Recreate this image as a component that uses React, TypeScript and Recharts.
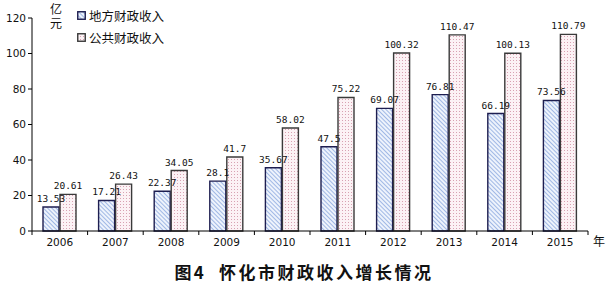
import React from "react";
import { BarChart, Bar, XAxis, YAxis, LabelList } from "recharts";

const years = ["2006", "2007", "2008", "2009", "2010", "2011", "2012", "2013", "2014", "2015"];
const localRevenue = [13.53, 17.21, 22.37, 28.1, 35.67, 47.5, 69.07, 76.81, 66.19, 73.56];
const publicRevenue = [20.61, 26.43, 34.05, 41.7, 58.02, 75.22, 100.32, 110.47, 100.13, 110.79];
const yTicks = [0, 20, 40, 60, 80, 100, 120];
const seriesNames = ["地方财政收入", "公共财政收入"];
const unitChars = ["亿", "元"];
const title = "图4  怀化市财政收入增长情况";

const data = years.map((y, i) => ({ year: y, local: localRevenue[i], pub: publicRevenue[i] }));

const CHART_W = 608;
const MARGIN = { top: 18, right: 20, bottom: 33, left: 0 };
const Y_W = 32;
const BAND = (CHART_W - MARGIN.left - MARGIN.right - Y_W) / years.length;

const labelStyle = { fontFamily: "'DejaVu Sans Mono', monospace", fontSize: 9.5, fill: "#111" };

function Patterns() {
  return (
    <svg width={0} height={0} style={{ position: "absolute" }}>
      <defs>
        <pattern id="hatch" width="3" height="3" patternUnits="userSpaceOnUse" patternTransform="rotate(-45)">
          <rect width="3" height="3" fill="#eef3fc" />
          <line x1="0" y1="0" x2="0" y2="3" stroke="#86a4de" strokeWidth="1.5" />
        </pattern>
        <pattern id="dots" width="3" height="3" patternUnits="userSpaceOnUse">
          <rect width="3" height="3" fill="#fcf2f5" />
          <rect x="0" y="0" width="1" height="1" fill="#d8a2b2" />
        </pattern>
      </defs>
    </svg>
  );
}

function XTick(props: any) {
  const { x, y, payload, index } = props;
  const axisY = y - 6;
  return (
    <g>
      <line x1={x + BAND / 2} y1={axisY} x2={x + BAND / 2} y2={axisY + 4} stroke="#000" />
      {index === 0 && <line x1={x - BAND / 2} y1={axisY} x2={x - BAND / 2} y2={axisY + 4} stroke="#000" />}
      <text x={x} y={y} dy={9} textAnchor="middle" fontFamily="'DejaVu Sans', sans-serif" fontSize={10.5} fill="#111">
        {payload.value}
      </text>
    </g>
  );
}

export default function App() {
  return (
    <div style={{ position: "absolute", left: 0, top: 0, width: 608, height: 288, background: "#fff" }}>
      <Patterns />
      <BarChart width={CHART_W} height={288} data={data} margin={MARGIN} barGap={1} barSize={16}>
        <XAxis
          dataKey="year"
          height={24}
          tickLine={false}
          tickSize={6}
          tickMargin={0}
          axisLine={{ stroke: "#000", strokeWidth: 1 }}
          tick={<XTick />}
          interval={0}
        />
        <YAxis
          domain={[0, 120]}
          ticks={yTicks}
          interval={0}
          width={Y_W}
          axisLine={{ stroke: "#000", strokeWidth: 1 }}
          tickLine={{ stroke: "#000" }}
          tickSize={4}
          tick={{ fontFamily: "'DejaVu Sans', sans-serif", fontSize: 10.5, fill: "#111" }}
        />
        <Bar dataKey="local" fill="url(#hatch)" stroke="#1e1e50" strokeWidth={1.4} isAnimationActive={false}>
          <LabelList dataKey="local" position="top" offset={5} style={labelStyle} />
        </Bar>
        <Bar dataKey="pub" fill="url(#dots)" stroke="#3a3a3a" strokeWidth={1.4} isAnimationActive={false}>
          <LabelList dataKey="pub" position="top" offset={5} style={labelStyle} />
        </Bar>
      </BarChart>

      {unitChars.map((ch, i) => (
        <div key={ch} style={{ position: "absolute", left: 50, top: 2 + i * 14, height: 13, fontFamily: "'Noto Sans CJK SC', sans-serif", fontSize: 12, lineHeight: "13px", color: "#111" }}>
          {ch}
        </div>
      ))}

      {seriesNames.map((name, i) => (
        <div key={name} style={{ position: "absolute", left: 77, top: 6 + i * 22, display: "flex", alignItems: "center", fontFamily: "'Noto Sans CJK SC', sans-serif", fontSize: 12.5, color: "#111", whiteSpace: "nowrap" }}>
          <svg width={9} height={9} style={{ marginRight: 3 }}>
            <rect x={0.75} y={0.75} width={7.5} height={7.5} fill={i === 0 ? "url(#hatch)" : "url(#dots)"} stroke={i === 0 ? "#1e1e50" : "#3a3a3a"} strokeWidth={1.4} />
          </svg>
          {name}
        </div>
      ))}

      <div style={{ position: "absolute", left: 593, top: 232, fontFamily: "'Noto Sans CJK SC', sans-serif", fontSize: 12, color: "#111" }}>年</div>

      <div style={{ position: "absolute", left: 0, width: 608, top: 259, textAlign: "center", fontFamily: "'Noto Sans CJK SC', sans-serif", fontWeight: 700, fontSize: 17, letterSpacing: 2.5, color: "#111", whiteSpace: "pre" }}>
        {title}
      </div>
    </div>
  );
}
